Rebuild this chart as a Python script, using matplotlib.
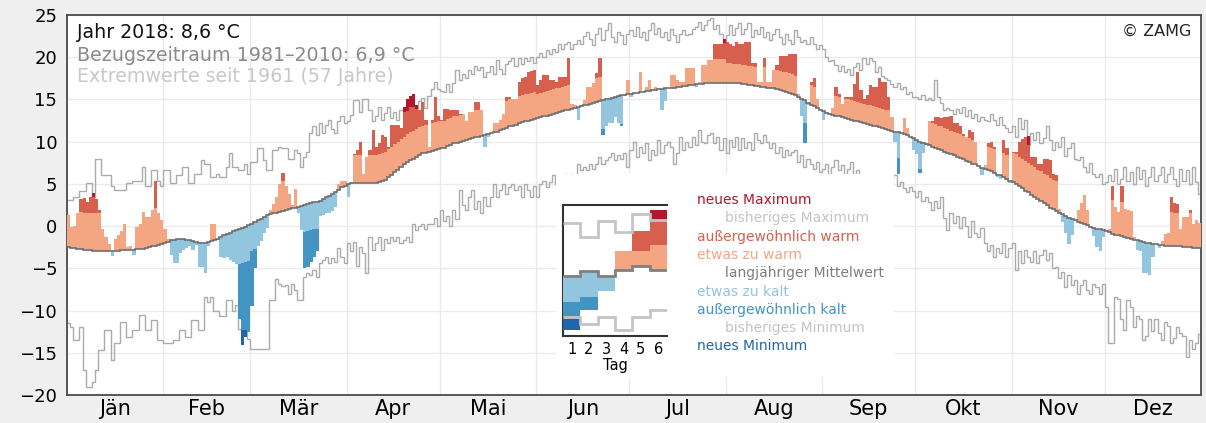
import numpy as np
import matplotlib
matplotlib.use('Agg')
import matplotlib.pyplot as plt
from matplotlib.patches import Rectangle

plt.rcParams['font.family'] = ['DejaVu Sans']

months = ['Jän', 'Feb', 'Mär', 'Apr', 'Mai', 'Jun', 'Jul', 'Aug', 'Sep', 'Okt', 'Nov', 'Dez']
month_len = [31, 28, 31, 30, 31, 30, 31, 31, 30, 31, 30, 31]

# Tagesmittel 2018 (°C)
temp = [
    1.3, -0.1, 0.0, 1.5, 3.2, 3.3, 2.9, 3.4, 3.9, 3.2, 1.9, -0.3, -1.3, -2.1, -3.5, -1.5, -1.0, -0.6, 0.3, -2.5, -2.4, -3.4, -0.1, 0.3, 1.7, 1.1, 1.1, 1.9, 5.4, 1.5, 0.7,
    -0.3, -1.5, -3.4, -4.4, -4.4, -3.2, -2.8, -2.6, -2.3, -2.8, -2.2, -4.8, -4.8, -5.6, -2.3, 0.3, 0.2, -1.6, -3.6, -3.8, -3.6, -4.0, -4.3, -4.5, -11.0, -14.1, -13.1, -12.5,
    -9.5, -5.0, -2.4, -1.8, -0.8, -0.2, 1.9, 2.6, 3.5, 5.0, 6.3, 4.7, 3.8, 2.5, 4.4, 1.5, -0.5, -5.0, -4.9, -4.2, -3.6, -3.0, 1.2, 1.3, 1.5, 1.6, 1.8, 2.3, 5.0, 5.4, 5.3,
    3.5, 5.2, 8.5, 9.0, 10.0, 6.2, 8.2, 9.0, 11.4, 9.4, 9.8, 10.8, 10.6, 9.4, 12.0, 12.0, 12.0, 11.6, 14.1, 15.1, 15.4, 15.7, 14.3, 13.7, 14.7, 12.6, 9.4, 12.6, 15.3, 13.0,
    12.6, 13.9, 13.9, 13.7, 13.7, 13.7, 13.3, 13.3, 12.4, 13.5, 13.5, 14.7, 14.7, 13.7, 9.4, 10.5, 11.0, 12.2, 12.2, 12.6, 13.3, 15.3, 15.3, 15.1, 15.1, 17.1, 17.5, 17.7, 18.3, 18.4, 18.5,
    16.7, 17.3, 17.9, 17.9, 17.3, 17.3, 17.1, 17.7, 17.7, 17.7, 19.9, 14.5, 14.3, 12.6, 14.4, 14.9, 16.5, 16.5, 16.9, 18.1, 19.9, 10.8, 11.8, 12.2, 12.2, 12.9, 12.2, 11.8, 15.4, 17.3,
    15.3, 15.8, 15.8, 18.3, 15.9, 16.5, 17.3, 16.2, 16.5, 16.2, 13.7, 14.8, 16.3, 17.9, 17.9, 17.3, 17.1, 17.1, 18.7, 18.7, 18.7, 16.5, 17.1, 19.1, 19.1, 19.7, 19.7, 21.6, 21.6, 21.6, 22.2,
    21.8, 21.6, 21.3, 21.8, 21.6, 21.6, 21.8, 21.8, 19.3, 19.3, 17.1, 17.1, 19.9, 17.1, 17.1, 18.5, 19.1, 20.1, 20.1, 20.1, 20.4, 20.4, 20.4, 15.6, 13.1, 9.8, 14.4, 17.1, 17.5, 15.1, 13.8,
    12.6, 13.5, 13.4, 14.0, 16.5, 15.7, 14.5, 15.3, 15.3, 15.3, 16.8, 18.3, 16.1, 15.1, 15.5, 16.7, 16.5, 16.5, 17.5, 17.1, 17.1, 15.3, 12.9, 10.0, 6.2, 11.0, 12.8, 11.6, 10.6, 9.0,
    8.5, 6.3, 8.6, 9.6, 12.4, 12.4, 12.9, 12.9, 12.8, 12.9, 12.9, 13.1, 12.2, 12.2, 11.8, 10.9, 10.6, 11.4, 11.2, 10.0, 7.2, 6.0, 7.2, 9.9, 10.0, 9.4, 5.8, 5.6, 10.2, 9.2, 5.1,
    8.8, 8.8, 10.0, 10.3, 10.6, 10.7, 8.2, 8.2, 7.4, 7.4, 8.0, 8.0, 7.8, 6.2, 6.0, 2.0, 0.5, -0.8, -2.1, -1.0, 0.6, 1.9, 2.7, 3.7, 1.9, -0.1, -1.2, -2.5, -3.0, -1.3,
    -0.5, -0.4, 4.7, 2.3, 1.7, 4.7, 2.0, 1.9, 1.8, -1.3, -2.8, -2.9, -5.6, -5.6, -5.8, -3.6, -2.1, -2.6, -1.8, -0.9, -0.8, 3.5, 2.7, 2.6, -0.3, 1.1, 1.1, 1.9, 0.3, 0.7, 0.4,
]

# langjähriger Mittelwert 1981-2010
clim_mean = [
    -2.5, -2.6, -2.6, -2.7, -2.7, -2.8, -2.8, -2.8, -2.9, -2.9, -2.9, -2.9, -2.9, -2.9, -2.9, -2.9, -2.9, -2.8, -2.8, -2.8, -2.8, -2.8, -2.7, -2.7, -2.7, -2.6, -2.5, -2.4, -2.3, -2.2, -2.1,
    -2.0, -1.9, -1.7, -1.6, -1.5, -1.5, -1.5, -1.6, -1.7, -1.8, -1.9, -2.0, -2.0, -2.0, -1.9, -1.8, -1.7, -1.5, -1.3, -1.1, -0.9, -0.8, -0.6, -0.5, -0.3, -0.2, -0.1, 0.1,
    0.3, 0.5, 0.7, 0.9, 1.1, 1.3, 1.4, 1.5, 1.6, 1.7, 1.8, 1.9, 2.0, 2.1, 2.2, 2.3, 2.4, 2.5, 2.6, 2.7, 2.8, 2.9, 3.0, 3.2, 3.4, 3.6, 3.8, 4.0, 4.3, 4.6, 4.8,
    5.0, 5.1, 5.1, 5.1, 5.1, 5.1, 5.1, 5.1, 5.1, 5.1, 5.2, 5.3, 5.5, 5.8, 6.1, 6.4, 6.7, 7.0, 7.3, 7.6, 7.8, 8.0, 8.2, 8.4, 8.6, 8.7, 8.8, 8.9, 9.0, 9.1,
    9.2, 9.3, 9.5, 9.6, 9.8, 9.9, 10.0, 10.1, 10.2, 10.3, 10.4, 10.5, 10.6, 10.7, 10.8, 10.9, 11.0, 11.1, 11.2, 11.4, 11.5, 11.6, 11.8, 11.9, 12.0, 12.2, 12.3, 12.4, 12.5, 12.6, 12.7,
    12.8, 12.9, 13.0, 13.1, 13.2, 13.3, 13.4, 13.5, 13.6, 13.7, 13.8, 13.9, 14.0, 14.1, 14.2, 14.3, 14.4, 14.5, 14.6, 14.7, 14.8, 14.9, 15.0, 15.1, 15.2, 15.3, 15.4, 15.5, 15.5, 15.6,
    15.7, 15.8, 15.8, 15.9, 15.9, 16.0, 16.0, 16.1, 16.1, 16.2, 16.2, 16.3, 16.3, 16.4, 16.4, 16.5, 16.5, 16.6, 16.6, 16.7, 16.7, 16.8, 16.8, 16.8, 16.9, 16.9, 16.9, 17.0, 17.0, 17.0, 17.0,
    17.0, 17.0, 16.9, 16.9, 16.9, 16.8, 16.8, 16.7, 16.7, 16.6, 16.6, 16.5, 16.5, 16.4, 16.3, 16.3, 16.2, 16.1, 16.0, 15.9, 15.8, 15.7, 15.5, 15.3, 15.1, 14.9, 14.6, 14.4, 14.2, 14.0, 13.8,
    13.6, 13.4, 13.3, 13.2, 13.1, 13.0, 12.9, 12.8, 12.7, 12.6, 12.5, 12.4, 12.3, 12.2, 12.1, 12.0, 11.9, 11.8, 11.7, 11.6, 11.5, 11.4, 11.3, 11.2, 11.1, 11.0, 10.9, 10.8, 10.6, 10.4,
    10.2, 10.0, 9.9, 9.7, 9.6, 9.4, 9.3, 9.1, 9.0, 8.8, 8.7, 8.5, 8.4, 8.2, 8.1, 7.9, 7.7, 7.6, 7.4, 7.3, 7.1, 6.9, 6.8, 6.6, 6.5, 6.3, 6.1, 6.0, 5.8, 5.6, 5.4,
    5.2, 5.0, 4.7, 4.5, 4.2, 4.0, 3.7, 3.5, 3.2, 3.0, 2.7, 2.5, 2.2, 2.0, 1.8, 1.6, 1.4, 1.2, 1.0, 0.8, 0.7, 0.5, 0.4, 0.2, 0.1, -0.1, -0.2, -0.3, -0.4, -0.5,
    -0.6, -0.7, -0.9, -1.0, -1.1, -1.2, -1.3, -1.4, -1.5, -1.6, -1.7, -1.8, -1.9, -2.0, -2.0, -2.1, -2.1, -2.2, -2.2, -2.3, -2.3, -2.3, -2.4, -2.4, -2.4, -2.5, -2.5, -2.5, -2.6, -2.6, -2.6,
]

# bisheriges Maximum seit 1961
rec_max = [
    3.1, 3.1, 3.5, 3.5, 4.1, 4.1, 5.1, 5.1, 3.5, 8.0, 8.0, 6.0, 6.0, 6.0, 4.7, 4.3, 4.3, 4.3, 4.3, 5.1, 5.1, 5.4, 5.4, 5.4, 7.0, 4.7, 4.7, 6.6, 6.6, 5.4, 4.7,
    6.6, 6.6, 5.1, 5.1, 6.0, 6.0, 7.0, 7.0, 5.1, 5.1, 6.2, 6.2, 7.8, 7.4, 7.4, 5.8, 5.8, 6.2, 5.8, 5.8, 7.0, 8.6, 7.0, 7.0, 6.6, 6.6, 7.4, 6.2,
    7.6, 7.6, 9.2, 9.2, 7.8, 6.6, 6.6, 9.0, 9.0, 9.4, 9.2, 9.2, 8.0, 8.0, 9.0, 8.6, 7.0, 8.2, 8.8, 11.0, 11.8, 10.8, 12.2, 11.0, 12.0, 12.6, 11.5, 11.0, 12.5, 13.0, 12.2,
    12.5, 13.2, 14.9, 14.9, 13.5, 15.0, 15.0, 13.8, 12.4, 13.0, 14.1, 12.6, 13.4, 14.1, 12.8, 13.5, 12.6, 13.7, 13.5, 13.6, 14.1, 14.1, 13.9, 14.8, 15.2, 14.0, 15.4, 16.2, 17.1, 16.2,
    16.0, 15.9, 16.8, 15.9, 17.0, 18.5, 17.3, 18.0, 17.6, 18.5, 18.0, 19.0, 18.5, 18.8, 17.7, 18.2, 19.0, 18.0, 19.7, 18.6, 18.0, 19.2, 19.5, 19.9, 19.0, 19.9, 19.2, 19.9, 19.5, 20.0, 19.3,
    20.0, 20.5, 20.0, 20.8, 20.4, 21.0, 20.6, 21.6, 21.0, 21.6, 21.8, 21.0, 21.6, 22.0, 21.6, 22.5, 23.0, 22.2, 21.5, 22.8, 23.5, 22.0, 23.2, 24.0, 22.4, 21.8, 23.0, 22.6, 21.6, 22.8,
    23.2, 22.5, 23.6, 22.4, 23.0, 22.0, 23.2, 24.0, 22.8, 23.5, 22.4, 23.0, 22.0, 23.4, 22.6, 21.8, 22.8, 23.2, 22.6, 22.8, 23.3, 23.6, 24.2, 23.2, 23.8, 24.4, 24.6, 23.4, 23.8, 22.8, 21.7,
    22.6, 23.8, 22.6, 23.5, 24.0, 22.8, 23.4, 24.0, 22.4, 23.2, 22.8, 23.6, 22.4, 23.0, 22.0, 22.8, 23.3, 22.4, 21.6, 22.8, 22.0, 21.6, 23.2, 22.4, 21.8, 22.0, 21.6, 22.4, 21.6, 21.0, 21.4,
    21.0, 20.0, 19.5, 19.7, 19.1, 18.4, 19.0, 18.2, 18.6, 17.9, 18.8, 19.3, 18.5, 19.9, 19.2, 19.9, 19.5, 18.2, 18.8, 17.8, 17.5, 17.3, 16.8, 16.5, 17.0, 16.2, 16.5, 15.6, 15.9, 15.3,
    15.3, 15.0, 15.5, 14.9, 15.2, 14.9, 17.3, 15.3, 14.6, 13.7, 14.0, 13.7, 13.3, 13.9, 13.4, 14.1, 13.0, 13.7, 12.8, 13.3, 12.4, 12.9, 12.6, 12.4, 13.3, 12.6, 12.0, 12.9, 12.0, 11.6, 11.2,
    11.8, 10.6, 12.8, 11.5, 12.6, 9.6, 11.0, 10.2, 11.2, 9.8, 10.4, 11.8, 10.2, 9.0, 10.0, 9.4, 10.6, 8.3, 9.2, 9.8, 8.0, 7.8, 8.2, 7.0, 6.4, 7.5, 6.2, 5.8, 6.2, 5.0,
    5.2, 6.0, 5.4, 6.8, 5.0, 5.6, 7.0, 5.4, 6.4, 5.0, 7.0, 5.6, 6.6, 4.8, 5.8, 7.0, 5.4, 6.0, 7.0, 5.2, 6.2, 7.0, 5.6, 4.8, 6.8, 5.4, 6.6, 5.0, 7.0, 5.2, 3.8,
]

# bisheriges Minimum seit 1961
rec_min = [
    -11.5, -12.0, -13.5, -13.5, -12.0, -17.0, -19.0, -19.0, -18.5, -17.0, -14.7, -14.7, -12.3, -12.3, -15.9, -13.9, -13.9, -11.3, -11.3, -13.1, -13.1, -12.3, -12.3, -10.5, -10.5, -12.3, -12.3, -11.1, -11.1, -13.5, -13.5,
    -13.9, -13.9, -13.9, -13.5, -13.5, -12.3, -12.3, -13.1, -13.1, -11.1, -11.1, -12.3, -12.3, -8.4, -9.0, -8.4, -10.0, -10.0, -10.7, -10.7, -8.8, -8.8, -10.0, -9.4, -12.2, -12.3, -12.3, -13.4,
    -14.5, -14.5, -14.5, -14.5, -14.5, -14.5, -8.8, -8.8, -6.3, -6.8, -7.1, -7.0, -8.0, -6.8, -7.6, -8.8, -8.8, -6.0, -5.6, -5.8, -5.2, -6.0, -4.4, -4.0, -3.6, -4.4, -3.8, -4.2, -2.6, -3.6, -4.4,
    -2.0, -3.0, -1.9, -4.7, -2.5, -3.2, -5.6, -1.3, -2.8, -2.0, -1.3, -2.8, -1.5, -2.0, -1.3, -1.8, -1.3, -2.0, -1.6, -1.3, -1.9, 0.3, -0.5, 0.0, 0.3, -0.4, 0.2, 0.3, 1.0, 0.0,
    1.9, 0.6, 1.2, 0.0, 1.9, 0.8, 4.3, 2.5, 1.9, 3.5, 4.3, 2.0, 3.0, 1.5, 3.5, 2.4, 3.5, 5.0, 3.5, 4.3, 5.0, 3.8, 4.6, 5.0, 4.3, 4.8, 3.5, 5.0, 4.3, 3.5, 4.8,
    3.5, 5.0, 5.4, 4.6, 5.2, 6.0, 5.0, 5.6, 5.0, 6.2, 5.8, 6.2, 5.8, 7.4, 6.6, 7.0, 6.6, 7.4, 6.8, 7.4, 8.2, 7.4, 7.8, 8.2, 8.6, 7.8, 8.4, 8.0, 8.6, 7.0,
    9.0, 10.0, 8.2, 9.4, 8.6, 9.8, 7.8, 9.0, 8.4, 10.2, 8.6, 9.6, 10.0, 9.4, 7.4, 8.6, 10.6, 9.0, 10.0, 9.4, 10.6, 9.6, 11.4, 10.0, 9.8, 10.8, 11.0, 9.8, 10.6, 9.0, 10.4,
    8.6, 10.2, 9.4, 10.6, 9.0, 10.4, 9.2, 10.0, 9.0, 11.0, 10.2, 9.8, 10.8, 10.0, 9.2, 9.8, 8.6, 9.4, 8.2, 9.0, 8.4, 8.8, 9.0, 7.6, 8.4, 7.0, 8.0, 7.4, 6.8, 7.6, 6.4,
    6.8, 7.4, 6.2, 7.0, 7.8, 6.6, 7.2, 5.8, 6.8, 7.6, 6.0, 6.6, 5.8, 5.5, 5.0, 5.8, 4.6, 5.2, 4.8, 5.6, 4.4, 5.0, 5.5, 6.0, 4.7, 5.2, 4.5, 4.0, 4.6, 4.2,
    3.5, 4.2, 3.0, 3.5, 2.8, 1.9, 3.0, 2.2, 3.4, 1.0, -0.5, 1.5, 0.4, 1.2, -0.2, 1.1, 0.0, -1.3, 0.6, -0.8, -1.3, -0.2, -2.0, -3.0, -2.2, -3.6, -2.6, -3.2, -2.0, -3.6, -2.6,
    -2.0, -5.2, -3.0, -4.4, -2.8, -3.6, -4.2, -3.0, -4.4, -3.4, -2.8, -4.0, -3.2, -5.0, -4.8, -6.2, -5.4, -7.2, -5.8, -7.0, -6.4, -8.0, -7.0, -6.4, -7.6, -8.0, -6.8, -7.2, -8.0, -6.8,
    -9.6, -13.9, -13.9, -8.4, -8.6, -11.0, -12.3, -8.8, -9.6, -12.0, -10.6, -11.0, -13.5, -13.0, -11.0, -12.4, -11.0, -12.6, -13.5, -11.4, -11.8, -13.9, -13.2, -12.0, -12.6, -13.0, -15.5, -13.5, -14.6, -13.8, -12.8,
]

# Abstand der Schwelle "außergewöhnlich" vom Mittelwert, je Monat
warm_off = [4.4, 4.3, 3.6, 3.3, 3.2, 2.9, 2.8, 2.3, 2.3, 2.8, 3.5, 4.0]
cold_off = [4.0, 4.2, 3.2, 3.0, 2.8, 3.35, 2.6, 2.7, 3.0, 3.2, 3.6, 4.0]

# Legendenbeispiel (6 Tage)
tag = [1, 2, 3, 4, 5, 6]
ex_temp = [0.43, 1.95, 3.47, 6.51, 8.03, 9.59]
ex_mean = [4.61, 4.99, 4.61, 5.04, 5.37, 5.04]
ex_max = [8.66, 7.52, 8.78, 7.97, 9.29, 8.84]
ex_min = [1.44, 0.94, 1.44, 0.43, 1.44, 1.95]
ex_warm = [6.8, 6.8, 6.8, 6.8, 6.5, 6.94]
ex_cold = [2.58, 2.96, 3.0, 3.0, 3.0, 3.0]

legend_items = [
    ('neues Maximum', '#b2182b', False),
    ('bisheriges Maximum', '#c4c4c4', True),
    ('außergewöhnlich warm', '#d6604d', False),
    ('etwas zu warm', '#f4a582', False),
    ('langjähriger Mittelwert', '#7f7f7f', True),
    ('etwas zu kalt', '#92c5de', False),
    ('außergewöhnlich kalt', '#4393c3', False),
    ('bisheriges Minimum', '#c4c4c4', True),
    ('neues Minimum', '#2166ac', False),
]

c_newmax, c_warm2, c_warm1 = '#b2182b', '#d6604d', '#f4a582'
c_cold1, c_cold2, c_newmin = '#92c5de', '#4393c3', '#2166ac'


def layers(ax, x, t, m, hi, lo, tw, tc, w=1.0, align='edge', z=3):
    t, m, hi, lo, tw, tc = map(np.asarray, (t, m, hi, lo, tw, tc))
    parts = [
        (t > m, m, np.minimum(t, tw), c_warm1),
        (t > tw, tw, np.minimum(t, hi), c_warm2),
        (t > hi, hi, t, c_newmax),
        (t < m, np.maximum(t, tc), m, c_cold1),
        (t < tc, np.maximum(t, lo), tc, c_cold2),
        (t < lo, t, lo, c_newmin),
    ]
    for mask, bot, top, col in parts:
        h = np.where(mask, np.clip(top - bot, 0, None), 0)
        ax.bar(x, h, bottom=np.where(mask, bot, 0), width=w, align=align,
               color=col, linewidth=0, zorder=z)


t = np.array(temp)
m = np.array(clim_mean)
hi = np.array(rec_max)
lo = np.array(rec_min)
mon = np.repeat(np.arange(12), month_len)
thr_w = m + np.array(warm_off)[mon]
thr_c = m - np.array(cold_off)[mon]
days = np.arange(365)
edges = np.arange(366)

fig = plt.figure(figsize=(12.06, 4.23), dpi=100, facecolor='#efefef')
ax = fig.add_axes([0.0556, 0.0662, 0.9403, 0.8983])
ax.set_facecolor('white')

ax.stairs(hi, edges, baseline=None, color='#ababab', lw=1.0, zorder=2)
ax.stairs(lo, edges, baseline=None, color='#ababab', lw=1.0, zorder=2)
layers(ax, days, t, m, hi, lo, thr_w, thr_c, w=1.04)
ax.add_patch(Rectangle((157.4, -17.9), 108.8, 24.1, facecolor='white',
                       edgecolor='none', zorder=3.5))
ax.stairs(m, edges, baseline=None, color='#6e6e6e', lw=1.2, zorder=4)

starts = np.concatenate([[0], np.cumsum(month_len)[:-1]])
mids = starts + np.array(month_len) / 2
ax.set_xlim(0, 365)
ax.set_ylim(-20, 25)
ax.set_xticks(mids)
ax.set_xticklabels(months)
ax.set_xticks(starts, minor=True)
ax.set_yticks(range(-20, 26, 5))
ax.tick_params(axis='both', which='both', length=0)
ax.tick_params(axis='x', labelsize=15, pad=3)
ax.tick_params(axis='y', labelsize=13, pad=7)
ax.grid(axis='y', which='major', color='#ebebeb', lw=1.0, zorder=0)
ax.grid(axis='x', which='minor', color='#ebebeb', lw=1.0, zorder=0)
ax.set_axisbelow(True)
for s in ax.spines.values():
    s.set_color('#4a4a4a')
    s.set_linewidth(1.3)

fig.text(0.0638, 0.9109, 'Jahr 2018: 8,6 °C', fontsize=13.7, color='#111111', va='baseline')
fig.text(0.0638, 0.8565, 'Bezugszeitraum 1981–2010: 6,9 °C', fontsize=13.7, color='#8a8a8a', va='baseline')
fig.text(0.0638, 0.8069, 'Extremwerte seit 1961 (57 Jahre)', fontsize=13.7, color='#c8c8c8', va='baseline')
fig.text(0.9876, 0.9149, '© ZAMG', fontsize=11.5, color='#222222', ha='right', va='baseline')

# Legende
for i, (lab, col, indent) in enumerate(legend_items):
    xpx = 725 if indent else 697
    ypx = 204 + 18.3 * i
    fig.text(xpx / 1206, 1 - ypx / 423, lab, fontsize=10, color=col, va='baseline')

ins = fig.add_axes([0.4668, 0.2057, 0.0862, 0.3097])
ins.set_facecolor('white')
ex_edges = np.arange(0.5, 7.0, 1.0)
layers(ins, tag, ex_temp, ex_mean, ex_max, ex_min, ex_warm, ex_cold, w=1.0, align='center')
ins.stairs(ex_max, ex_edges, baseline=None, color='#c4c4c4', lw=2.0, zorder=4)
ins.stairs(ex_min, ex_edges, baseline=None, color='#c4c4c4', lw=2.0, zorder=4)
ins.stairs(ex_mean, ex_edges, baseline=None, color='#808080', lw=2.0, zorder=5)
ins.set_xlim(0.5, 6.5)
ins.set_ylim(0, 10)
ins.set_xticks(tag)
ins.set_yticks([])
ins.tick_params(axis='x', length=0, labelsize=10.5, pad=4)
ins.set_xlabel('Tag', fontsize=10.5, labelpad=1)
ins.spines['right'].set_visible(False)
for k in ('left', 'bottom', 'top'):
    ins.spines[k].set_color('#333333')
    ins.spines[k].set_linewidth(1.5)

fig.savefig('out.png', dpi=100, facecolor=fig.get_facecolor())
